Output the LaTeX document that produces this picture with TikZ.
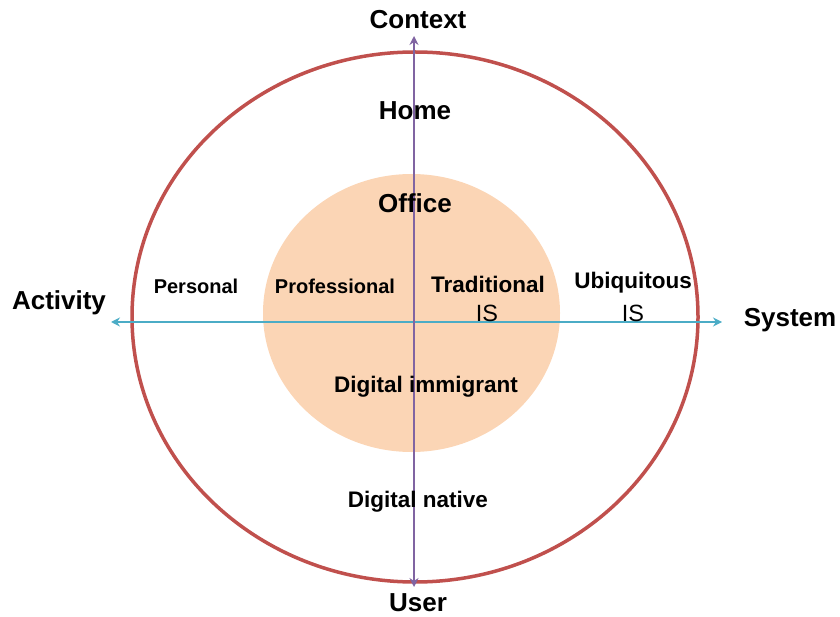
\documentclass[tikz,border=0pt]{standalone}
\usepackage{fontspec}
\setmainfont{Liberation Sans}
\usetikzlibrary{arrows.meta}
\definecolor{ringred}{HTML}{C0504D}
\definecolor{corepeach}{HTML}{FBD5B5}
\definecolor{axispurple}{HTML}{8064A2}
\definecolor{axisblue}{HTML}{4BACC6}
\tikzset{
	biglab/.style={font=\fontsize{26}{30}\selectfont\bfseries, inner sep=0pt},
	midlab/.style={font=\fontsize{22.5}{27}\selectfont\bfseries, inner sep=0pt},
	smalllab/.style={font=\fontsize{20}{24}\selectfont\bfseries, inner sep=0pt},
	islab/.style={font=\fontsize{23.5}{27}\selectfont, inner sep=0pt},
	axis/.style={line width=2.5pt, {Stealth[length=9pt,width=9pt]}-{Stealth[length=9pt,width=9pt]}}
}
\begin{document}
\begin{tikzpicture}[x=1pt, y=-1pt]
			\useasboundingbox (0,0) rectangle (840,617);
			\draw[ringred, line width=3.5pt] (415,317) ellipse [x radius=283, y radius=265];
			\fill[corepeach] (411.5,313) ellipse [x radius=148.5, y radius=139];
			\coordinate (ctxend) at (414,36);
			\coordinate (usrend) at (414,587);
			\coordinate (actend) at (111,322);
			\coordinate (sysend) at (722,322);
			\draw[axis, axisblue] (actend) -- (sysend);
			\draw[axis, axispurple] (usrend) -- (ctxend);
			\node[biglab] (ctx) at (418,20) {Context};
			\node[biglab] (usr) at (418,603) {User};
			\node[biglab] (act) at (59,303) {Activity};
			\node[biglab] (sys) at (790,320) {System};
			\node[biglab] (home) at (415,111) {Home};
			\node[biglab] (office) at (415,203) {Office};
			\node[smalllab] (pers) at (196,286) {Personal};
			\node[smalllab] (prof) at (335,286) {Professional};
			\node[midlab] (trad) at (488,284) {Traditional};
			\node[islab] (tradis) at (487,313) {IS};
			\node[midlab] (ubiq) at (633,283) {Ubiquitous};
			\node[islab] (ubiqis) at (633,313) {IS};
			\node[midlab] (immig) at (426,387) {Digital immigrant};
			\node[midlab] (native) at (418,502) {Digital native};
		\end{tikzpicture}
\end{document}
